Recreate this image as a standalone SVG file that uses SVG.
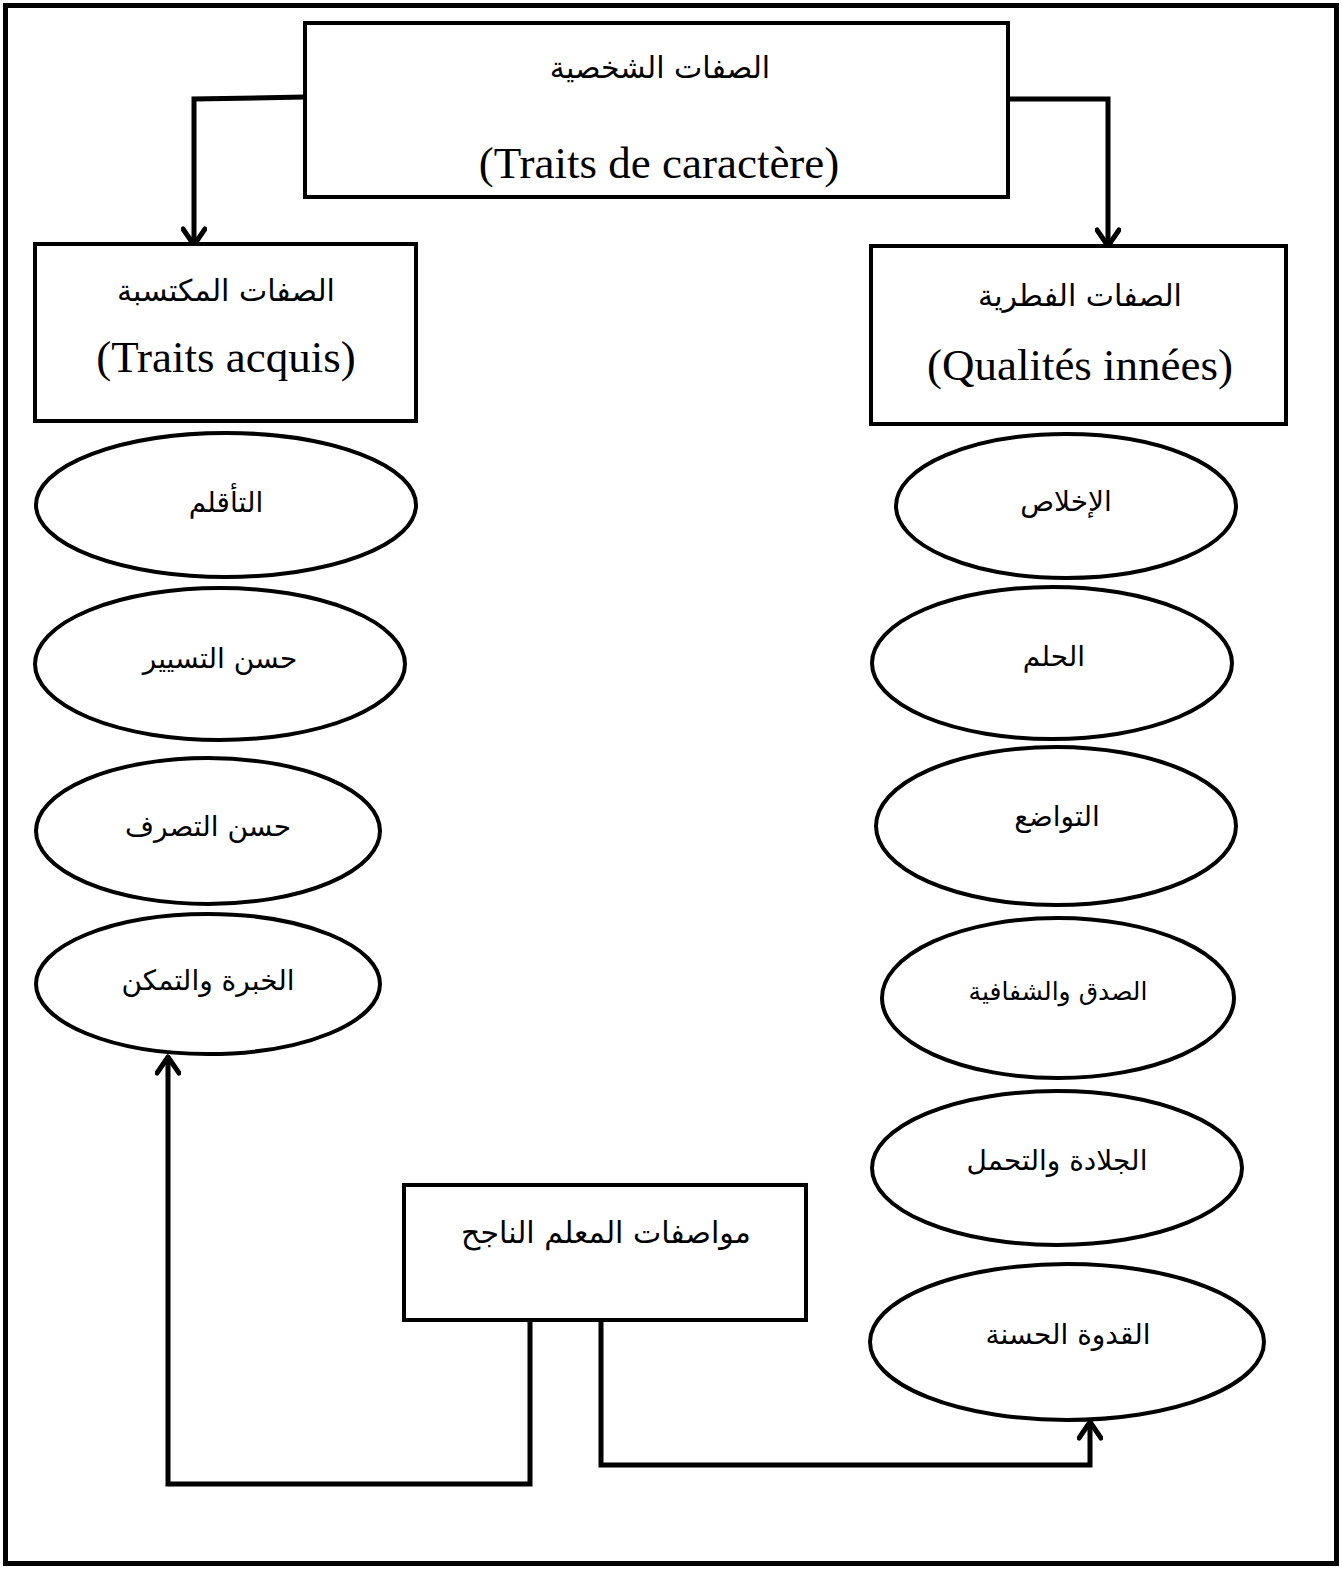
<svg xmlns="http://www.w3.org/2000/svg" width="1342" height="1569" viewBox="0 0 1342 1569">
<style>
.box{fill:#fff;stroke:#000;stroke-width:4}
.ell{fill:#fff;stroke:#000;stroke-width:4}
.ar{font-family:"DejaVu Sans","Noto Sans",sans-serif;font-size:28px;fill:#000;text-anchor:middle;direction:rtl}
.hd{font-size:30px}
.lat{font-family:"Liberation Serif","DejaVu Serif",serif;font-size:45px;fill:#000;text-anchor:middle}
.con{fill:none;stroke:#000;stroke-width:5;stroke-linejoin:miter}
</style>
<defs>
<marker id="arr" viewBox="0 0 26 26" refX="21" refY="13" markerWidth="26" markerHeight="26" markerUnits="userSpaceOnUse" orient="auto">
<path d="M5,2 L21,13 L5,24" fill="none" stroke="#000" stroke-width="5" stroke-linecap="round" stroke-linejoin="round"/>
</marker>
</defs>
<rect x="0" y="0" width="1342" height="1569" fill="#fff"/>
<rect x="5.5" y="5.5" width="1331" height="1558" fill="none" stroke="#000" stroke-width="5"/>

<g id="connectors">
<path class="con" d="M305,97 L194,99 L194,245" marker-end="url(#arr)"/>
<path class="con" d="M1008,99 L1108,99 L1108,246" marker-end="url(#arr)"/>
<path class="con" d="M530,1318 L530,1484 L168,1484 L168,1057" marker-end="url(#arr)"/>
<path class="con" d="M601,1318 L601,1465 L1090,1465 L1090,1422" marker-end="url(#arr)"/>
</g>

<g id="n-top">
<rect class="box" x="305" y="23" width="703" height="174"/>
<text class="ar hd" x="660" y="78">الصفات الشخصية</text>
<text class="lat" x="659" y="178">(Traits de caractère)</text>
</g>

<g id="n-acquired">
<rect class="box" x="35" y="244" width="381" height="177"/>
<text class="ar hd" x="226" y="301">الصفات المكتسبة</text>
<text class="lat" x="226" y="372">(Traits acquis)</text>
</g>

<g id="n-innate">
<rect class="box" x="871" y="246" width="415" height="178"/>
<text class="ar hd" x="1080" y="306">الصفات الفطرية</text>
<text class="lat" x="1080" y="380">(Qualités innées)</text>
</g>

<g id="n-adapt">
<ellipse class="ell" cx="226" cy="505" rx="190" ry="72"/>
<text class="ar" x="226" y="512">التأقلم</text>
</g>
<g id="n-management">
<ellipse class="ell" cx="220" cy="664" rx="185" ry="76"/>
<text class="ar" x="220" y="668">حسن التسيير</text>
</g>
<g id="n-conduct">
<ellipse class="ell" cx="208" cy="831" rx="172" ry="73"/>
<text class="ar" x="208" y="836">حسن التصرف</text>
</g>
<g id="n-experience">
<ellipse class="ell" cx="208" cy="984" rx="172" ry="70"/>
<text class="ar" x="208" y="990">الخبرة والتمكن</text>
</g>

<g id="n-sincerity">
<ellipse class="ell" cx="1066" cy="506" rx="170" ry="72"/>
<text class="ar" x="1066" y="511">الإخلاص</text>
</g>
<g id="n-patience">
<ellipse class="ell" cx="1052" cy="663" rx="180" ry="76"/>
<text class="ar" x="1054" y="666">الحلم</text>
</g>
<g id="n-humility">
<ellipse class="ell" cx="1056" cy="826" rx="180" ry="79"/>
<text class="ar" x="1057" y="826">التواضع</text>
</g>
<g id="n-honesty">
<ellipse class="ell" cx="1058" cy="998" rx="176" ry="80"/>
<text class="ar" x="1058" y="1000" style="font-size:25px">الصدق والشفافية</text>
</g>
<g id="n-endurance">
<ellipse class="ell" cx="1057" cy="1168" rx="185" ry="77"/>
<text class="ar" x="1057" y="1170">الجلادة والتحمل</text>
</g>
<g id="n-rolemodel">
<ellipse class="ell" cx="1067" cy="1342" rx="197" ry="78"/>
<text class="ar" x="1068" y="1344">القدوة الحسنة</text>
</g>

<g id="n-teacher">
<rect class="box" x="404" y="1185" width="402" height="135"/>
<text class="ar hd" x="606" y="1243">مواصفات المعلم الناجح</text>
</g>
</svg>
